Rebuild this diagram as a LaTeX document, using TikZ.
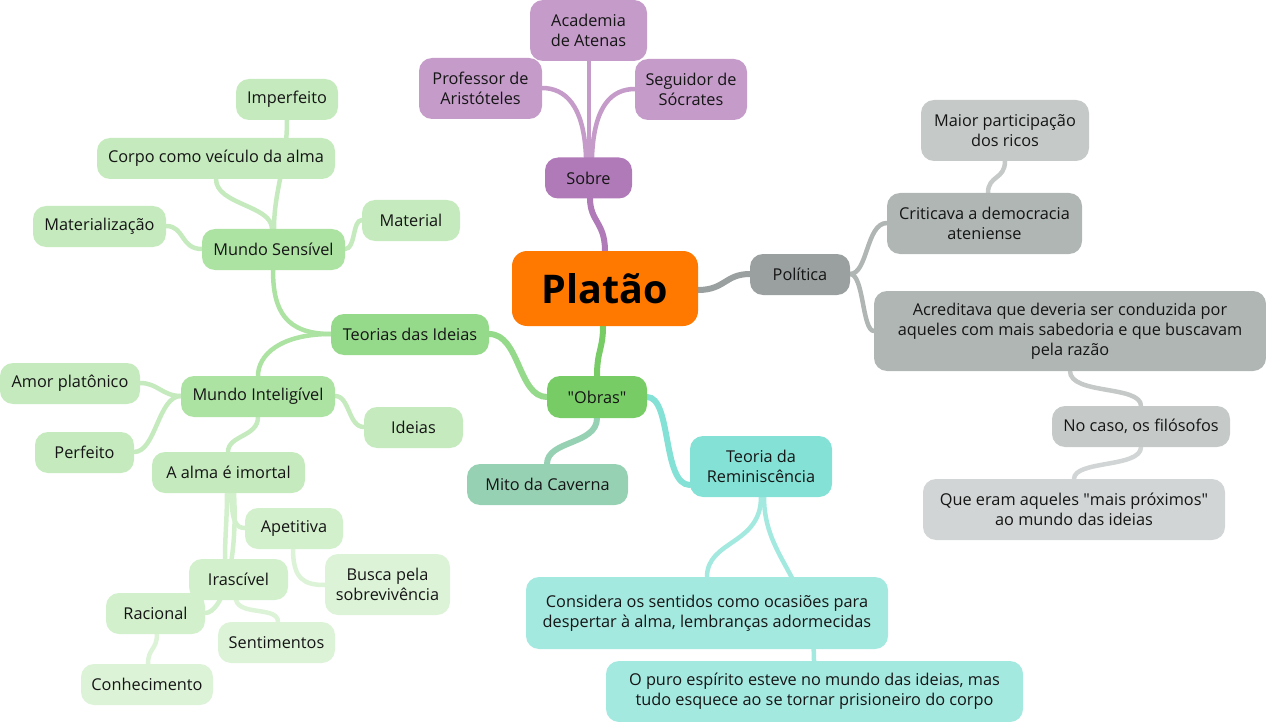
\documentclass[tikz,border=0pt]{standalone}
\usepackage{fontspec}
\setmainfont{Open Sans}
\definecolor{orng}{HTML}{FF7800}
\definecolor{purA}{HTML}{B07AB8}
\definecolor{purB}{HTML}{C49BC9}
\definecolor{gryA}{HTML}{9AA09F}
\definecolor{gryB}{HTML}{B0B6B4}
\definecolor{gryC}{HTML}{C5C9C8}
\definecolor{gryD}{HTML}{D2D5D5}
\definecolor{grnA}{HTML}{77CC66}
\definecolor{grnB}{HTML}{95D98A}
\definecolor{grnC}{HTML}{ACE2A2}
\definecolor{grnD}{HTML}{C4EABD}
\definecolor{grnE}{HTML}{D2F0CC}
\definecolor{grnF}{HTML}{DDF3D8}
\definecolor{mito}{HTML}{97D1B4}
\definecolor{tqA}{HTML}{84E1D6}
\definecolor{tqB}{HTML}{A4E9E0}
\definecolor{txt}{HTML}{151515}
\tikzset{
  box/.style={rounded corners=13pt, inner sep=0pt, align=center, text=txt,
    font=\fontsize{16.3}{20}\selectfont, minimum height=41pt},
  lnk/.style={line width=4.5pt, line cap=round},
  lnkB/.style={line width=6pt, line cap=round},
}
\begin{document}
\begin{tikzpicture}[x=1pt,y=-1pt]
\useasboundingbox (0,0) rectangle (1266,722);
% ---------- connectors ----------
\draw[lnkB,purA] (605,251) .. controls (605,222) and (590,222) .. (590,198);
\draw[lnkB,gryA] (698,290) .. controls (725,290) and (725,274) .. (750,274);
\draw[lnkB,grnA] (603,326) .. controls (603,350) and (597,350) .. (597,376);
\draw[lnk,purB] (589,157) -- (589,61);
\draw[lnk,purB] (586,157) .. controls (584,105) and (565,88) .. (542,88);
\draw[lnk,purB] (592,157) .. controls (594,105) and (612,89) .. (635,89);
\draw[lnk,gryB] (850,274) .. controls (868,274) and (866,223) .. (887,223);
\draw[lnk,gryB] (850,274) .. controls (864,274) and (862,331) .. (874,331);
\draw[lnk,gryC] (988,193) .. controls (988,175) and (1005,180) .. (1005,161);
\draw[lnk,gryC] (1070,371) .. controls (1070,395) and (1141,385) .. (1141,406);
\draw[lnk,gryD] (1141,447) .. controls (1141,468) and (1074,460) .. (1074,479);
\draw[lnkB,grnB] (547,397) .. controls (518,397) and (520,334) .. (489,334);
\draw[lnkB,mito] (597,418) .. controls (597,445) and (547,440) .. (547,464);
\draw[lnkB,tqA] (647,397) .. controls (672,397) and (662,485) .. (690,485);
\draw[lnk,tqB] (761,497) .. controls (761,545) and (707,540) .. (707,577);
\draw[lnk,tqB] (764,497) .. controls (764,560) and (814,580) .. (814,661);
\draw[lnk,grnC] (331,334) .. controls (285,334) and (273,310) .. (273,270);
\draw[lnk,grnC] (331,334) .. controls (280,334) and (258,355) .. (258,376);
\draw[lnk,grnD] (272,229) .. controls (272,205) and (216,205) .. (216,179);
\draw[lnk,grnD] (274,229) .. controls (274,190) and (287,165) .. (287,120);
\draw[lnk,grnD] (202,249) .. controls (180,249) and (185,226) .. (166,226);
\draw[lnk,grnD] (345,249) .. controls (356,249) and (352,220) .. (362,220);
\draw[lnk,grnD] (181,396) .. controls (162,396) and (158,383) .. (140,383);
\draw[lnk,grnD] (181,396) .. controls (158,396) and (156,452) .. (134,452);
\draw[lnk,grnD] (335,396) .. controls (350,396) and (348,427) .. (364,427);
\draw[lnk,grnD] (258,417) .. controls (258,437) and (228,435) .. (228,452);
\draw[lnk,grnE] (231,493) .. controls (232,522) and (236,528) .. (245,528);
\draw[lnk,grnE] (227,493) .. controls (227,520) and (225,535) .. (225,559);
\draw[lnk,grnE] (234,493) .. controls (238,565) and (222,613) .. (205,613);
\draw[lnk,grnF] (293,549) .. controls (293,580) and (305,585) .. (325,585);
\draw[lnk,grnF] (236,600) .. controls (240,616) and (278,606) .. (278,622);
\draw[lnk,grnF] (157,634) .. controls (157,650) and (148,648) .. (148,664);
% ---------- nodes ----------
\node[box, fill=orng, minimum width=186pt, minimum height=75pt, rounded corners=15pt,
  font=\fontsize{39.5}{46}\selectfont\bfseries, text=black] (plat) at (605,288.5) {Platão};
\node[box, fill=purA, minimum width=87pt] (sobre) at (588.5,178) {Sobre};
\node[box, fill=purB, minimum width=117pt, minimum height=61pt] (acad) at (588.5,30.5) {Academia\\de Atenas};
\node[box, fill=purB, minimum width=123pt, minimum height=61pt] (prof) at (480.5,88.5) {Professor de\\Aristóteles};
\node[box, fill=purB, minimum width=112pt, minimum height=61pt] (seg) at (691,89.5) {Seguidor de\\Sócrates};
\node[box, fill=gryA, minimum width=100pt] (pol) at (800,274.5) {Política};
\node[box, fill=gryB, minimum width=195pt, minimum height=61pt] (crit) at (984.5,223.5) {Criticava a democracia\\ateniense};
\node[box, fill=gryC, minimum width=168pt, minimum height=61pt] (maior) at (1005,130.5) {Maior participação\\dos ricos};
\node[box, fill=gryB, minimum width=392pt, minimum height=80pt] (acred) at (1070,331) {Acreditava que deveria ser conduzida por\\aqueles com mais sabedoria e que buscavam\\pela razão};
\node[box, fill=gryC, minimum width=178pt] (caso) at (1141,426.5) {No caso, os filósofos};
\node[box, fill=gryD, minimum width=302pt, minimum height=61pt] (que) at (1074,509.5) {Que eram aqueles \textquotedbl mais próximos\textquotedbl\\ao mundo das ideias};
\node[box, fill=grnA, minimum width=100pt, minimum height=42pt] (obras) at (597,397) {\textquotedbl Obras\textquotedbl};
\node[box, fill=grnB, minimum width=158pt] (teor) at (410,334.5) {Teorias das Ideias};
\node[box, fill=mito, minimum width=161pt] (mitoc) at (547.5,484.5) {Mito da Caverna};
\node[box, fill=tqA, minimum width=142pt, minimum height=61pt] (tdr) at (761,466.5) {Teoria da\\Reminiscência};
\node[box, fill=tqB, minimum width=362pt, minimum height=72pt] (cons) at (707,613) {Considera os sentidos como ocasiões para\\despertar à alma, lembranças adormecidas};
\node[box, fill=tqB, minimum width=417pt, minimum height=61pt] (puro) at (814.5,691.5) {O puro espírito esteve no mundo das ideias, mas\\tudo esquece ao se tornar prisioneiro do corpo};
\node[box, fill=grnC, minimum width=143pt] (ms) at (273.5,249.5) {Mundo Sensível};
\node[box, fill=grnC, minimum width=154pt] (mi) at (258,396.5) {Mundo Inteligível};
\node[box, fill=grnD, minimum width=102pt] (imp) at (287,99.5) {Imperfeito};
\node[box, fill=grnD, minimum width=238pt] (corpo) at (216,158.5) {Corpo como veículo da alma};
\node[box, fill=grnD, minimum width=133pt] (matz) at (99.5,226.5) {Materialização};
\node[box, fill=grnD, minimum width=98pt] (mat) at (411,220.5) {Material};
\node[box, fill=grnD, minimum width=140pt] (amor) at (70,383.5) {Amor platônico};
\node[box, fill=grnD, minimum width=99pt] (perf) at (84.5,452.5) {Perfeito};
\node[box, fill=grnD, minimum width=99pt] (ideias) at (413.5,427.5) {Ideias};
\node[box, fill=grnD, minimum width=153pt] (alma) at (228.5,472.5) {A alma é imortal};
\node[box, fill=grnE, minimum width=98pt] (apet) at (294,528.5) {Apetitiva};
\node[box, fill=grnF, minimum width=125pt, minimum height=61pt] (busca) at (387.5,584.5) {Busca pela\\sobrevivência};
\node[box, fill=grnE, minimum width=99pt] (irasc) at (238.5,579.5) {Irascível};
\node[box, fill=grnE, minimum width=99pt] (rac) at (155.5,613.5) {Racional};
\node[box, fill=grnF, minimum width=117pt] (sent) at (276.5,642.5) {Sentimentos};
\node[box, fill=grnF, minimum width=132pt] (conh) at (147,684.5) {Conhecimento};
\end{tikzpicture}
\end{document}
